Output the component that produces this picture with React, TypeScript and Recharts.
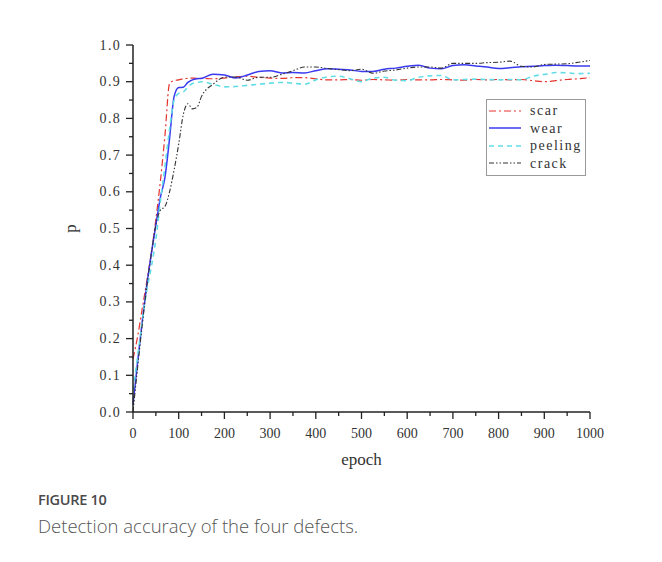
import React from "react"
import { LineChart, Line, XAxis, YAxis, Legend, Label } from "recharts"

const epochs = [
  0, 10, 20, 30, 40, 50, 60, 70, 80, 90, 100, 110, 120, 130, 140, 150, 175, 200, 225, 250,
  275, 300, 325, 350, 375, 400, 425, 450, 475, 500, 525, 550, 575, 600, 625, 650, 675, 700,
  725, 750, 775, 800, 825, 850, 875, 900, 925, 950, 975, 1000,
]

const scar = [
  0.145, 0.205, 0.28, 0.355, 0.433, 0.525, 0.63, 0.755, 0.895, 0.903, 0.905, 0.908, 0.909, 0.91,
  0.909, 0.909, 0.908, 0.91, 0.913, 0.915, 0.912, 0.91, 0.909, 0.911, 0.911, 0.908, 0.905, 0.905,
  0.906, 0.904, 0.906, 0.905, 0.904, 0.906, 0.905, 0.905, 0.906, 0.905, 0.904, 0.906, 0.905,
  0.906, 0.905, 0.906, 0.903, 0.9, 0.903, 0.906, 0.908, 0.911,
]

const wear = [
  0.02, 0.135, 0.245, 0.345, 0.43, 0.51, 0.585, 0.64, 0.745, 0.86, 0.884, 0.885, 0.898, 0.905,
  0.908, 0.909, 0.92, 0.918, 0.91, 0.918, 0.928, 0.93, 0.924, 0.925, 0.924, 0.93, 0.935, 0.934,
  0.932, 0.928, 0.928, 0.934, 0.937, 0.942, 0.945, 0.937, 0.935, 0.944, 0.946, 0.943, 0.94,
  0.936, 0.938, 0.941, 0.942, 0.944, 0.945, 0.944, 0.943, 0.943,
]

const peeling = [
  0.06, 0.15, 0.245, 0.33, 0.395, 0.47, 0.575, 0.67, 0.77, 0.85, 0.868, 0.872, 0.885, 0.895,
  0.898, 0.9, 0.893, 0.886, 0.887, 0.89, 0.893, 0.896, 0.898, 0.896, 0.893, 0.905, 0.913, 0.915,
  0.908, 0.9, 0.91, 0.912, 0.904, 0.903, 0.912, 0.916, 0.917, 0.905, 0.906, 0.907, 0.906, 0.905,
  0.906, 0.905, 0.915, 0.92, 0.925, 0.924, 0.922, 0.923,
]

const crack = [
  0.0, 0.12, 0.235, 0.34, 0.43, 0.51, 0.55, 0.56, 0.6, 0.66, 0.73, 0.81, 0.84, 0.826, 0.83, 0.86,
  0.893, 0.912, 0.913, 0.904, 0.912, 0.912, 0.92, 0.93, 0.94, 0.94, 0.936, 0.933, 0.93, 0.934,
  0.923, 0.929, 0.932, 0.937, 0.94, 0.94, 0.937, 0.95, 0.95, 0.95, 0.952, 0.953, 0.956, 0.942,
  0.94, 0.947, 0.948, 0.949, 0.953, 0.958,
]

const xMajor = [0, 100, 200, 300, 400, 500, 600, 700, 800, 900, 1000]
const xMinor = [50, 150, 250, 350, 450, 550, 650, 750, 850, 950]
const yMajor = [0, 0.1, 0.2, 0.3, 0.4, 0.5, 0.6, 0.7, 0.8, 0.9, 1.0]
const yMinor = [0.05, 0.15, 0.25, 0.35, 0.45, 0.55, 0.65, 0.75, 0.85, 0.95]

const series = [
  { key: "scar", color: "#e5332e", dash: "7 3 2 3", width: 1.2 },
  { key: "wear", color: "#3a3af0", dash: undefined, width: 1.5 },
  { key: "peeling", color: "#62dde6", dash: "5 4", width: 1.6 },
  { key: "crack", color: "#333333", dash: "5 2 1.5 2 1.5 2", width: 1.1 },
]

const data = epochs.map((e, i) => ({
  epoch: e,
  scar: scar[i],
  wear: wear[i],
  peeling: peeling[i],
  crack: crack[i],
}))

const serif = "'Liberation Serif', 'DejaVu Serif', serif"
const axisColor = "#222"

function XTick(props: any) {
  const { x, y, payload } = props
  const major = xMajor.includes(payload.value)
  return (
    <g>
      <line x1={x} x2={x} y1={y} y2={y + (major ? 7 : 4)} stroke={axisColor} strokeWidth={1.3} />
      {major && (
        <text x={x} y={y + 21} textAnchor="middle" dominantBaseline="central" fontFamily={serif} fontSize={14} fill="#333">
          {payload.value}
        </text>
      )}
    </g>
  )
}

function YTick(props: any) {
  const { x, y, payload } = props
  const major = yMajor.includes(payload.value)
  return (
    <g>
      <line x1={x - (major ? 7 : 4)} x2={x} y1={y} y2={y} stroke={axisColor} strokeWidth={1.3} />
      {major && (
        <text x={x - 12} y={y} textAnchor="end" dominantBaseline="central" fontFamily={serif} fontSize={14} letterSpacing={1.3} fill="#333">
          {payload.value.toFixed(1)}
        </text>
      )}
    </g>
  )
}

function LegendBox() {
  return (
    <div style={{ border: "1px solid #9a9a9a", background: "#fff", padding: "2px 0 3px 2px", width: 96 }}>
      {series.map((s) => (
        <div key={s.key} style={{ display: "flex", alignItems: "center", height: 17.5 }}>
          <svg width={32} height={6}>
            <line x1={0} x2={32} y1={3} y2={3} stroke={s.color} strokeWidth={s.width} strokeDasharray={s.dash} />
          </svg>
          <span style={{ marginLeft: 9, fontFamily: serif, fontSize: 14, letterSpacing: 1.5, color: "#333", lineHeight: "17px" }}>
            {s.key}
          </span>
        </div>
      ))}
    </div>
  )
}

export default function App() {
  return (
    <div style={{ position: "relative", width: 662, height: 562, margin: -8, background: "#fff", overflow: "hidden" }}>
      <div
        style={{
          position: "absolute",
          left: 5,
          top: 6,
          width: 700,
          height: 600,
          borderTop: "1.5px solid #b5b5b5",
          borderLeft: "1.5px solid #b5b5b5",
        }}
      />
      <div style={{ position: "absolute", left: 0, top: 0 }}>
        <LineChart width={662} height={475} data={data} margin={{ top: 45, right: 72, bottom: 18, left: 73 }}>
          <XAxis
            dataKey="epoch"
            type="number"
            domain={[0, 1000]}
            ticks={[...xMajor, ...xMinor]}
            interval={0}
            tickSize={0}
            tickMargin={0}
            tick={<XTick />}
            height={45}
            stroke={axisColor}
            strokeWidth={1.5}
          >
            <Label
              content={(p: any) => (
                <text
                  x={p.viewBox.x + p.viewBox.width / 2}
                  y={p.viewBox.y + 47}
                  textAnchor="middle"
                  dominantBaseline="central"
                  fontFamily={serif}
                  fontSize={17}
                  fill="#333"
                >
                  epoch
                </text>
              )}
            />
          </XAxis>
          <YAxis
            type="number"
            domain={[0, 1]}
            ticks={[...yMajor, ...yMinor]}
            interval={0}
            tickSize={0}
            tickMargin={0}
            tick={<YTick />}
            width={60}
            stroke={axisColor}
            strokeWidth={1.5}
          >
            <Label
              content={(p: any) => {
                const cx = p.viewBox.x - 3
                const cy = p.viewBox.y + p.viewBox.height / 2
                return (
                  <text
                    x={cx}
                    y={cy}
                    transform={`rotate(-90, ${cx}, ${cy})`}
                    textAnchor="middle"
                    dominantBaseline="central"
                    fontFamily={serif}
                    fontSize={17}
                    fill="#333"
                  >
                    p
                  </text>
                )
              }}
            />
          </YAxis>
          <Legend
            layout="vertical"
            align="center"
            verticalAlign="middle"
            content={<LegendBox />}
            wrapperStyle={{ left: 486, top: 99, width: 100 }}
          />
          {series.map((s) => (
            <Line
              key={s.key}
              dataKey={s.key}
              type="monotone"
              stroke={s.color}
              strokeWidth={s.width}
              strokeDasharray={s.dash}
              dot={false}
              activeDot={false}
              isAnimationActive={false}
            />
          ))}
        </LineChart>
      </div>
      <div
        style={{
          position: "absolute",
          left: 38,
          top: 490,
          fontFamily: "'Open Sans', sans-serif",
          fontSize: 14.5,
          fontWeight: 600,
          color: "#4a4a4a",
          letterSpacing: -0.3,
        }}
      >
        FIGURE 10
      </div>
      <div
        style={{
          position: "absolute",
          left: 38,
          top: 513,
          fontFamily: "'Open Sans', sans-serif",
          fontSize: 18.5,
          fontWeight: 300,
          color: "#555",
        }}
      >
        Detection accuracy of the four defects.
      </div>
    </div>
  )
}
